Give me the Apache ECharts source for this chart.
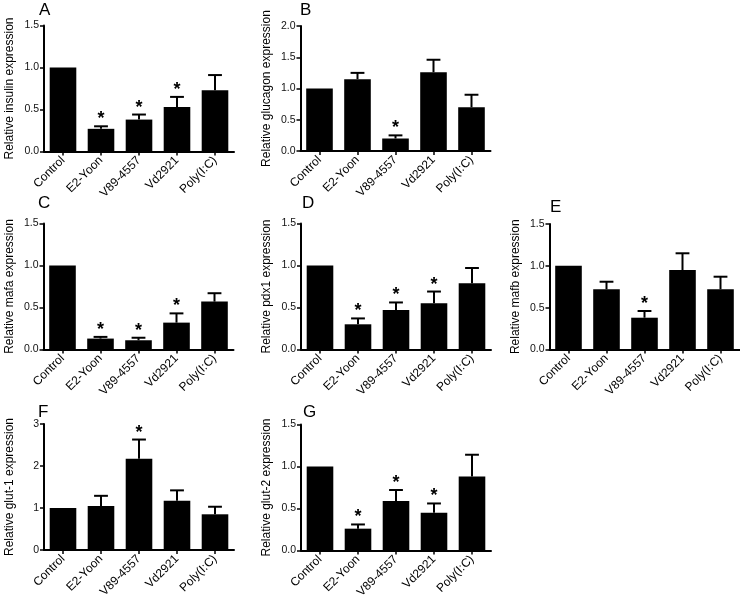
<!DOCTYPE html>
<html><head><meta charset="utf-8">
<script src="https://cdn.jsdelivr.net/npm/echarts@6/dist/echarts.min.js"></script>
<style>html,body{margin:0;padding:0;background:#fff}#c{width:740px;height:601px}</style>
</head><body><div id="c"></div>
<script>
const categories = ['Control', 'E2-Yoon', 'V89-4557', 'Vd2921', 'Poly(I:C)'];

const insulinMean = [1.0, 0.27, 0.38, 0.53, 0.73];
const insulinErr  = [0, 0.03, 0.06, 0.12, 0.18];
const insulinSig  = [0, 1, 1, 1, 0];

const glucagonMean = [1.0, 1.15, 0.20, 1.26, 0.70];
const glucagonErr  = [0, 0.10, 0.05, 0.20, 0.20];
const glucagonSig  = [0, 0, 1, 0, 0];

const mafaMean = [1.0, 0.13, 0.11, 0.32, 0.57];
const mafaErr  = [0, 0.02, 0.03, 0.11, 0.10];
const mafaSig  = [0, 1, 1, 1, 0];

const pdx1Mean = [1.0, 0.30, 0.47, 0.55, 0.79];
const pdx1Err  = [0, 0.07, 0.09, 0.14, 0.18];
const pdx1Sig  = [0, 1, 1, 1, 0];

const mafbMean = [1.0, 0.72, 0.38, 0.95, 0.72];
const mafbErr  = [0, 0.09, 0.08, 0.20, 0.15];
const mafbSig  = [0, 0, 1, 0, 0];

const glut1Mean = [1.0, 1.05, 2.17, 1.17, 0.85];
const glut1Err  = [0, 0.24, 0.46, 0.25, 0.18];
const glut1Sig  = [0, 0, 1, 0, 0];

const glut2Mean = [1.0, 0.26, 0.59, 0.45, 0.88];
const glut2Err  = [0, 0.05, 0.13, 0.11, 0.26];
const glut2Sig  = [0, 1, 1, 1, 0];

const FONT = "'Liberation Sans', Arial, Helvetica, sans-serif";

const panels = [
  {letter: 'A', name: 'Relative insulin expression',  mean: insulinMean,  err: insulinErr,  sig: insulinSig,  max: 1.5, step: 0.5, dec: 1, left: 44,  top: 25.5, h: 126, lx: 39,  ly: 2},
  {letter: 'B', name: 'Relative glucagon expression', mean: glucagonMean, err: glucagonErr, sig: glucagonSig, max: 2.0, step: 0.5, dec: 1, left: 300.5, top: 26, h: 125, lx: 300, ly: 2},
  {letter: 'C', name: 'Relative mafa expression',     mean: mafaMean,     err: mafaErr,     sig: mafaSig,     max: 1.5, step: 0.5, dec: 1, left: 43.5, top: 223.5, h: 126, lx: 38,  ly: 195},
  {letter: 'D', name: 'Relative pdx1 expression',     mean: pdx1Mean,     err: pdx1Err,     sig: pdx1Sig,     max: 1.5, step: 0.5, dec: 1, left: 301, top: 223.5, h: 126, lx: 302, ly: 195},
  {letter: 'E', name: 'Relative mafb expression',     mean: mafbMean,     err: mafbErr,     sig: mafbSig,     max: 1.5, step: 0.5, dec: 1, left: 549.5, top: 224, h: 125.5, lx: 550, ly: 199},
  {letter: 'F', name: 'Relative glut-1 expression',   mean: glut1Mean,    err: glut1Err,    sig: glut1Sig,    max: 3,   step: 1,   dec: 0, left: 44,  top: 424, h: 126, lx: 38,  ly: 404},
  {letter: 'G', name: 'Relative glut-2 expression',   mean: glut2Mean,    err: glut2Err,    sig: glut2Sig,    max: 1.5, step: 0.5, dec: 1, left: 301, top: 424.5, h: 126, lx: 303, ly: 404}
];

const grid = [], xAxis = [], yAxis = [], series = [], graphic = [];
const axisLine = {show: true, lineStyle: {color: '#000', width: 2}};

panels.forEach((p, k) => {
  grid.push({left: p.left, top: p.top, width: 190, height: p.h, containLabel: false});
  xAxis.push({
    type: 'category', gridIndex: k, data: categories,
    axisLine: axisLine,
    axisTick: {show: true, alignWithLabel: true, length: 4, lineStyle: {color: '#000', width: 1.5}},
    axisLabel: {rotate: 45, fontSize: 12, color: '#000', fontFamily: FONT, margin: 7, interval: 0}
  });
  yAxis.push({
    type: 'value', gridIndex: k, min: 0, max: p.max, interval: p.step,
    name: p.name, nameLocation: 'middle', nameGap: 28,
    nameTextStyle: {fontSize: 12, color: '#000', fontFamily: FONT},
    axisLine: axisLine,
    axisTick: {show: true, length: 4, lineStyle: {color: '#000', width: 1.5}},
    axisLabel: {fontSize: 10.5, color: '#111', fontFamily: FONT, margin: 5,
      formatter: v => v.toFixed(p.dec)},
    splitLine: {show: false}
  });
  series.push({
    type: 'bar', xAxisIndex: k, yAxisIndex: k, data: p.mean,
    barWidth: '70%', itemStyle: {color: '#000'}, silent: true
  });
  series.push({
    type: 'custom', xAxisIndex: k, yAxisIndex: k, z: 5, clip: false, silent: true,
    data: p.mean.map((m, i) => [i, m, p.err[i], p.sig[i]]),
    renderItem: (params, api) => {
      const i = api.value(0), m = api.value(1), e = api.value(2), s = api.value(3);
      const base = api.coord([i, m]);
      const top = api.coord([i, m + e]);
      const bw = api.size([1, 0])[0] * 0.7;
      const cw = bw * 0.52;
      const children = [];
      if (e > 0) {
        children.push({type: 'line', shape: {x1: base[0], y1: base[1], x2: top[0], y2: top[1]},
          style: {stroke: '#000', lineWidth: 2}});
        children.push({type: 'line', shape: {x1: top[0] - cw / 2, y1: top[1], x2: top[0] + cw / 2, y2: top[1]},
          style: {stroke: '#000', lineWidth: 2}});
      }
      if (s) {
        children.push({type: 'text', x: top[0], y: top[1] + 2,
          style: {text: '*', fontSize: 18, fontWeight: 'bold', fontFamily: FONT, fill: '#000',
            align: 'center', verticalAlign: 'bottom'}});
      }
      return {type: 'group', children: children};
    }
  });
  graphic.push({type: 'text', left: p.lx, top: p.ly,
    style: {text: p.letter, fontSize: 17, fontFamily: FONT, fill: '#000'}});
});

const chart = echarts.init(document.getElementById('c'), null, {renderer: 'canvas'});
chart.setOption({
  backgroundColor: '#fff',
  animation: false,
  grid: grid, xAxis: xAxis, yAxis: yAxis, series: series, graphic: graphic
});
</script>
</body></html>
